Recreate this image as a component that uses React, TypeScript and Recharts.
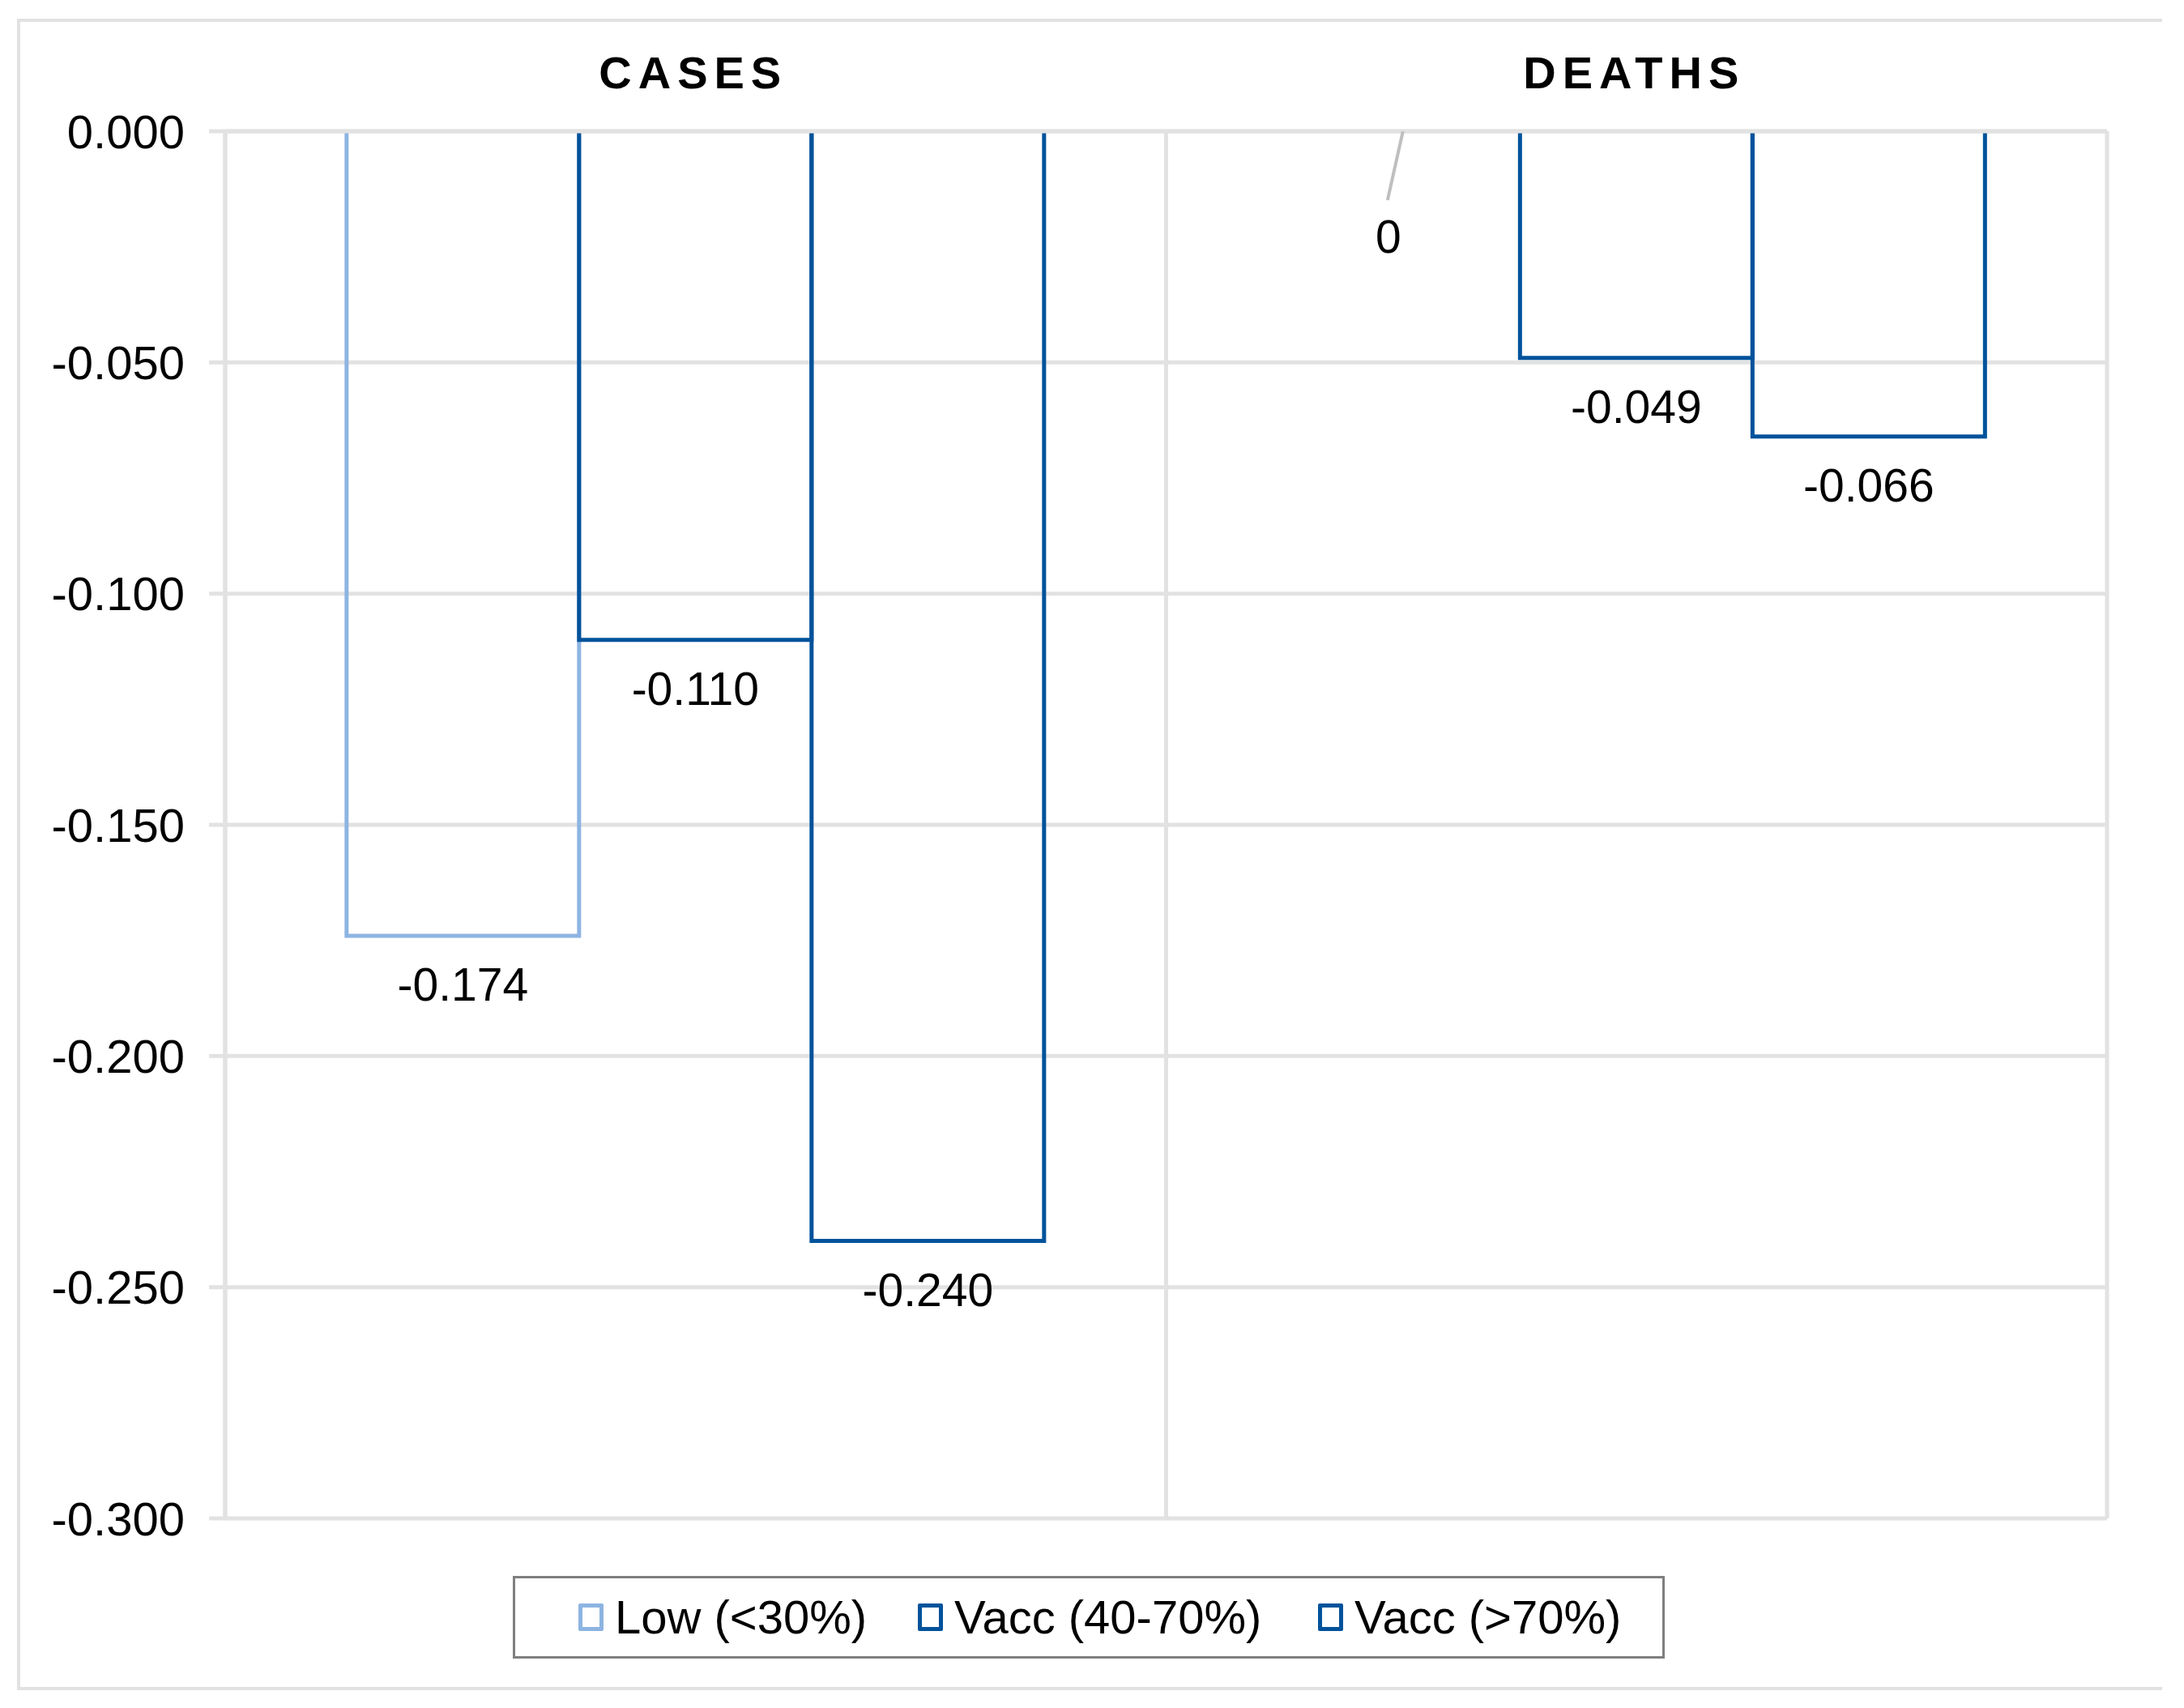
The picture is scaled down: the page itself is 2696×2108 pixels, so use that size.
import React from "react";
import {
  BarChart,
  Bar,
  XAxis,
  YAxis,
  CartesianGrid,
  Legend,
  LabelList,
} from "recharts";

const categories = ["CASES", "DEATHS"];
const lowValues = [-0.174, 0];
const midValues = [-0.11, -0.049];
const highValues = [-0.24, -0.066];
const yTicks = [0, -0.05, -0.1, -0.15, -0.2, -0.25, -0.3];
const seriesNames = ["Low (<30%)", "Vacc (40-70%)", "Vacc (>70%)"];
const seriesKeys = ["low", "mid", "high"];

const LOW_COLOR = "#8DB4E2";
const VACC_COLOR = "#00529B";
const seriesColors = [LOW_COLOR, VACC_COLOR, VACC_COLOR];
const legendItemLeft = [81, 500, 994];
const GRID = "#E2E2E2";
const FONT = "'Liberation Sans', Arial, sans-serif";

const data = categories.map((c, i) => ({
  category: c,
  low: lowValues[i],
  mid: midValues[i],
  high: highValues[i],
}));

const OpenBar = (props: any) => {
  const { x, y, width, height, stroke } = props;
  if (x == null || y == null || !height || Math.abs(height) < 1) return null;
  const top = Math.min(y, y + height);
  const bottom = Math.max(y, y + height);
  const left = x;
  const right = x + width;
  return (
    <path
      d={`M${left},${top} L${left},${bottom} L${right},${bottom} L${right},${top}`}
      fill="none"
      stroke={stroke}
      strokeWidth={5}
      strokeLinejoin="miter"
    />
  );
};

const ValueLabel = (props: any) => {
  const { x, y, width, height, value } = props;
  if (x == null || y == null) return null;
  const cx = x + width / 2;
  if (Math.abs(value) < 1e-9) {
    const zeroY = Math.min(y, y + (height || 0));
    return (
      <g>
        <line
          x1={cx - 1}
          y1={zeroY}
          x2={cx - 20}
          y2={zeroY + 85}
          stroke="#BFBFBF"
          strokeWidth={4}
        />
        <text
          x={cx - 19}
          y={zeroY + 130}
          textAnchor="middle"
          dominantBaseline="central"
          fontSize={57}
          fontFamily={FONT}
          fill="#000"
        >
          0
        </text>
      </g>
    );
  }
  const bottom = Math.max(y, y + height);
  return (
    <text
      x={cx}
      y={bottom + 60}
      textAnchor="middle"
      dominantBaseline="central"
      fontSize={57}
      fontFamily={FONT}
      fill="#000"
    >
      {Number(value).toFixed(3)}
    </text>
  );
};

const TitleTick = (props: any) => {
  const { x, y, payload } = props;
  return (
    <text
      x={x - 3}
      y={y}
      textAnchor="middle"
      fontSize={56}
      fontWeight="bold"
      letterSpacing={8}
      fontFamily={FONT}
      fill="#000"
    >
      {payload.value}
    </text>
  );
};

const LegendBox = () => (
  <div
    style={{
      position: "relative",
      boxSizing: "border-box",
      width: 1422,
      height: 102,
      border: "3px solid #7F7F7F",
      fontFamily: FONT,
      fontSize: 58,
      color: "#000",
      background: "#fff",
    }}
  >
    {seriesNames.map((name, i) => (
      <div
        key={name}
        style={{
          position: "absolute",
          left: legendItemLeft[i] - 3,
          top: 0,
          height: 96,
          display: "flex",
          alignItems: "center",
        }}
      >
        <div
          style={{
            boxSizing: "border-box",
            width: 31,
            height: 34,
            border: `5px solid ${seriesColors[i]}`,
            borderRadius: 2,
            marginRight: 14,
          }}
        />
        <span style={{ lineHeight: "58px", whiteSpace: "nowrap" }}>{name}</span>
      </div>
    ))}
  </div>
);

export default function App() {
  return (
    <div
      style={{
        position: "absolute",
        left: 0,
        top: 0,
        width: 2696,
        height: 2108,
        background: "#fff",
        overflow: "hidden",
      }}
    >
      <div
        style={{
          position: "absolute",
          left: 21,
          top: 23,
          width: 2648,
          height: 2063,
          boxSizing: "border-box",
          border: `4px solid ${GRID}`,
          borderRight: "none",
        }}
      />
      <div style={{ position: "absolute", left: 0, top: 0 }}>
        <BarChart
          width={2696}
          height={2108}
          data={data}
          margin={{ top: 0, right: 95, bottom: 234, left: 0 }}
          barCategoryGap="12.9%"
          barGap={0}
        >
          <CartesianGrid
            stroke={GRID}
            strokeWidth={5}
            verticalCoordinatesGenerator={({ offset }: any) => {
              const n = categories.length;
              return Array.from({ length: n + 1 }, (_, i) => offset.left + (offset.width * i) / n);
            }}
          />
          <XAxis
            dataKey="category"
            orientation="top"
            height={162}
            tickSize={0}
            tickMargin={53}
            axisLine={{ stroke: GRID, strokeWidth: 5 }}
            tickLine={false}
            tick={<TitleTick />}
            interval={0}
          />
          <YAxis
            type="number"
            domain={[-0.3, 0]}
            ticks={yTicks}
            width={278}
            tickSize={20}
            tickMargin={30}
            axisLine={{ stroke: GRID, strokeWidth: 5 }}
            tickLine={{ stroke: GRID, strokeWidth: 5 }}
            tick={{ fill: "#000", fontSize: 58, fontFamily: FONT }}
            tickFormatter={(v: number) => (v === 0 ? "0.000" : v.toFixed(3))}
            interval={0}
          />
          <Legend
            layout="horizontal"
            verticalAlign="middle"
            align="center"
            width={1422}
            height={102}
            wrapperStyle={{ left: 633, top: 1945, width: 1422, height: 102 }}
            content={<LegendBox />}
          />
          {seriesKeys.map((k, i) => (
            <Bar
              key={k}
              dataKey={k}
              name={seriesNames[i]}
              fill="none"
              stroke={seriesColors[i]}
              shape={<OpenBar />}
              isAnimationActive={false}
            >
              <LabelList dataKey={k} content={<ValueLabel />} />
            </Bar>
          ))}
        </BarChart>
      </div>
    </div>
  );
}
